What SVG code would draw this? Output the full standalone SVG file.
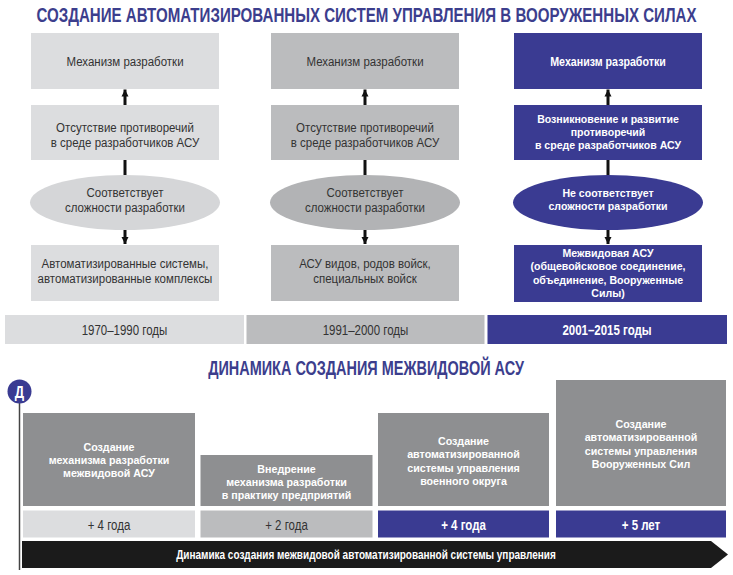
<svg xmlns="http://www.w3.org/2000/svg" width="733" height="575" viewBox="0 0 733 575">
<style>
text{font-family:"Liberation Sans",Arial,sans-serif;text-anchor:middle}
.ttl{font-size:21px;font-weight:bold;fill:#3c3e8d}
.d{font-size:12.5px;fill:#333}
.w{font-size:11.5px;font-weight:bold;fill:#fff}
.w1{font-size:13px;font-weight:bold;fill:#fff}
.lg{fill:#dcdddf}
.lge{fill:#d5d6d8}
.mg{fill:#bbbcbe}
.mge{fill:#b2b3b5}
.bl{fill:#3a3b92}
.dg{fill:#8e8f91}
.cn{stroke:#111;stroke-width:3;fill:none}
</style>
<defs>
<marker id="ah" viewBox="0 0 10 10" refX="10" refY="5" markerWidth="7" markerHeight="10" markerUnits="userSpaceOnUse" orient="auto">
<path d="M0,0 L10,5 L0,10 z" fill="#111"/>
</marker>
</defs>
<rect width="733" height="575" fill="#fff"/>

<text class="ttl" x="0" y="0" transform="translate(366.5,22) scale(0.75,1)" textLength="880" lengthAdjust="spacingAndGlyphs">СОЗДАНИЕ АВТОМАТИЗИРОВАННЫХ СИСТЕМ УПРАВЛЕНИЯ В ВООРУЖЕННЫХ СИЛАХ</text>

<g id="connectors">
<line class="cn" x1="125" y1="105" x2="125" y2="89.5" marker-end="url(#ah)"/>
<line class="cn" x1="125" y1="160" x2="125" y2="175.5"/>
<line class="cn" x1="125" y1="230" x2="125" y2="244" marker-end="url(#ah)"/>
<line class="cn" x1="365" y1="105" x2="365" y2="89.5" marker-end="url(#ah)"/>
<line class="cn" x1="365" y1="160" x2="365" y2="175.5"/>
<line class="cn" x1="365" y1="230" x2="365" y2="244" marker-end="url(#ah)"/>
<line class="cn" x1="608" y1="105" x2="608" y2="89.5" marker-end="url(#ah)"/>
<line class="cn" x1="608" y1="160" x2="608" y2="175.5"/>
<line class="cn" x1="608" y1="230" x2="608" y2="244" marker-end="url(#ah)"/>
<line x1="19.5" y1="402" x2="19.5" y2="570" stroke="#444" stroke-width="1.5"/>
</g>

<g id="c1-mech">
<rect class="lg" x="31" y="33" width="188" height="56"/>
<text class="d" transform="translate(125,66) scale(0.92,1)">Механизм разработки</text>
</g>
<g id="c1-abs">
<rect class="lg" x="31" y="105" width="188" height="55"/>
<text class="d" transform="translate(125,132) scale(0.92,1)"><tspan x="0">Отсутствие противоречий</tspan><tspan x="0" dy="14.7">в среде разработчиков АСУ</tspan></text>
</g>
<g id="c1-ell">
<ellipse class="lge" cx="125" cy="202.5" rx="95" ry="27.5"/>
<text class="d" transform="translate(125,197) scale(0.92,1)"><tspan x="0">Соответствует</tspan><tspan x="0" dy="14.7">сложности разработки</tspan></text>
</g>
<g id="c1-res">
<rect class="lg" x="31" y="245" width="188" height="56"/>
<text class="d" transform="translate(125,268) scale(0.92,1)"><tspan x="0">Автоматизированные системы,</tspan><tspan x="0" dy="14.7">автоматизированные комплексы</tspan></text>
</g>

<g id="c2-mech">
<rect class="mg" x="271" y="33" width="188" height="56"/>
<text class="d" transform="translate(365,66) scale(0.92,1)">Механизм разработки</text>
</g>
<g id="c2-abs">
<rect class="mg" x="271" y="105" width="188" height="55"/>
<text class="d" transform="translate(365,132) scale(0.92,1)"><tspan x="0">Отсутствие противоречий</tspan><tspan x="0" dy="14.7">в среде разработчиков АСУ</tspan></text>
</g>
<g id="c2-ell">
<ellipse class="mge" cx="365" cy="202.5" rx="95" ry="27.5"/>
<text class="d" transform="translate(365,197) scale(0.92,1)"><tspan x="0">Соответствует</tspan><tspan x="0" dy="14.7">сложности разработки</tspan></text>
</g>
<g id="c2-res">
<rect class="mg" x="271" y="245" width="188" height="56"/>
<text class="d" transform="translate(365,268) scale(0.92,1)"><tspan x="0">АСУ видов, родов войск,</tspan><tspan x="0" dy="14.7">специальных войск</tspan></text>
</g>

<g id="c3-mech">
<rect class="bl" x="514" y="33" width="188" height="56"/>
<text class="w1" transform="translate(608,66) scale(0.82,1)">Механизм разработки</text>
</g>
<g id="c3-abs">
<rect class="bl" x="514" y="105" width="188" height="55"/>
<text class="w" transform="translate(608,123) scale(0.92,1)"><tspan x="0">Возникновение и развитие</tspan><tspan x="0" dy="13">противоречий</tspan><tspan x="0" dy="13">в среде разработчиков АСУ</tspan></text>
</g>
<g id="c3-ell">
<ellipse class="bl" cx="608" cy="202.5" rx="95" ry="27.5"/>
<text class="w" transform="translate(608,197) scale(0.92,1)"><tspan x="0">Не соответствует</tspan><tspan x="0" dy="13.5">сложности разработки</tspan></text>
</g>
<g id="c3-res">
<rect class="bl" x="514" y="245" width="188" height="57"/>
<text class="w" transform="translate(608,257) scale(0.92,1)"><tspan x="0">Межвидовая АСУ</tspan><tspan x="0" dy="13.5">(общевойсковое соединение,</tspan><tspan x="0" dy="13.5">объединение, Вооруженные</tspan><tspan x="0" dy="13.5">Силы)</tspan></text>
</g>

<g id="period-1">
<rect class="lg" x="5" y="315" width="239" height="29"/>
<text class="d" style="font-size:14px" transform="translate(124.5,334.5) scale(0.82,1)">1970–1990 годы</text>
</g>
<g id="period-2">
<rect class="mg" x="246.5" y="315" width="238" height="29"/>
<text class="d" style="font-size:14px" transform="translate(365.5,334.5) scale(0.82,1)">1991–2000 годы</text>
</g>
<g id="period-3">
<rect class="bl" x="487.5" y="315" width="239.5" height="29"/>
<text class="w1" style="font-size:14px" transform="translate(607,334.5) scale(0.82,1)">2001–2015 годы</text>
</g>

<text class="ttl" x="0" y="0" transform="translate(366,375) scale(0.75,1)" textLength="421" lengthAdjust="spacingAndGlyphs">ДИНАМИКА СОЗДАНИЯ МЕЖВИДОВОЙ АСУ</text>

<g id="marker-d">
<circle class="bl" cx="19.5" cy="391.5" r="12"/>
<text class="w1" style="font-size:16px" transform="translate(19.5,397.5) scale(0.82,1)">Д</text>
</g>

<g id="stage-1">
<rect class="dg" x="23" y="413" width="172" height="93"/>
<text class="w" transform="translate(109,451) scale(0.93,1)"><tspan x="0">Создание</tspan><tspan x="0" dy="13">механизма разработки</tspan><tspan x="0" dy="13">межвидовой АСУ</tspan></text>
</g>
<g id="stage-2">
<rect class="dg" x="200.5" y="455" width="172" height="51"/>
<text class="w" transform="translate(286.5,473) scale(0.93,1)"><tspan x="0">Внедрение</tspan><tspan x="0" dy="13">механизма разработки</tspan><tspan x="0" dy="13">в практику предприятий</tspan></text>
</g>
<g id="stage-3">
<rect class="dg" x="378" y="413" width="171" height="93"/>
<text class="w" transform="translate(463.5,445) scale(0.93,1)"><tspan x="0">Создание</tspan><tspan x="0" dy="13.3">автоматизированной</tspan><tspan x="0" dy="13.3">системы управления</tspan><tspan x="0" dy="13.3">военного округа</tspan></text>
</g>
<g id="stage-4">
<rect class="dg" x="556" y="380" width="170" height="126"/>
<text class="w" transform="translate(641,428) scale(0.93,1)"><tspan x="0">Создание</tspan><tspan x="0" dy="13.3">автоматизированной</tspan><tspan x="0" dy="13.3">системы управления</tspan><tspan x="0" dy="13.3">Вооруженных Сил</tspan></text>
</g>

<g id="dur-1">
<rect class="lg" x="23" y="510.5" width="172" height="27"/>
<text class="d" style="font-size:14px" transform="translate(109,529.5) scale(0.82,1)">+ 4 года</text>
</g>
<g id="dur-2">
<rect class="mg" x="200.5" y="510.5" width="172" height="27"/>
<text class="d" style="font-size:14px" transform="translate(286.5,529.5) scale(0.82,1)">+ 2 года</text>
</g>
<g id="dur-3">
<rect class="bl" x="378" y="510.5" width="171" height="27"/>
<text class="w1" style="font-size:14px" transform="translate(463.5,529.5) scale(0.82,1)">+ 4 года</text>
</g>
<g id="dur-4">
<rect class="bl" x="556" y="510.5" width="170" height="27"/>
<text class="w1" style="font-size:14px" transform="translate(641,529.5) scale(0.82,1)">+ 5 лет</text>
</g>

<g id="timeline">
<polygon points="22,541 711,541 728,554.5 711,568 22,568" fill="#1b1b1b"/>
<text class="w1" style="font-size:12.5px" transform="translate(366,558.5) scale(0.8,1)">Динамика создания межвидовой автоматизированной системы управления</text>
</g>
</svg>
